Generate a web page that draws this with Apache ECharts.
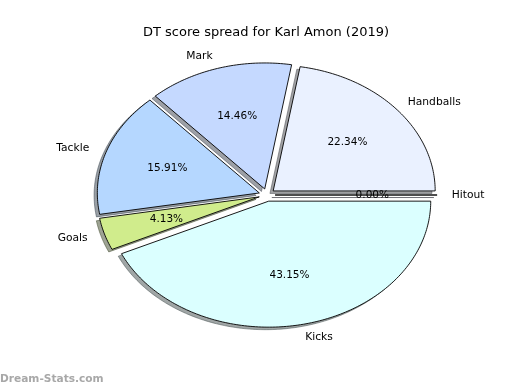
<!DOCTYPE html>
<html>
<head>
<meta charset="utf-8">
<script src="https://cdn.jsdelivr.net/npm/echarts@6/dist/echarts.min.js"></script>
<style>
html,body{margin:0;padding:0;background:#fff;}
#c{width:520px;height:390px;}
</style>
</head>
<body>
<div id="c"></div>
<script>
// ---- data ----
const labels = ['Hitout', 'Handballs', 'Mark', 'Tackle', 'Goals', 'Kicks'];
const values = [0.00, 22.34, 14.46, 15.91, 4.13, 43.15];
const explode = [0.05, 0.05, 0.05, 0.05, 0.05, 0.05];
const colors = ['#e0e0ff', '#eaf1ff', '#c5d9ff', '#b5d7ff', '#d0ec8c', '#dbffff'];
const titleText = 'DT score spread for Karl Amon (2019)';
const watermark = 'Dream-Stats.com';

// ---- layout ----
const CX = 267, CY = 195, RX = 162, RY = 126;
const FONT = 'DejaVu Sans';

const total = values.reduce((a, b) => a + b, 0);
let cum = 0;
const seriesData = values.map((v, i) => {
  const item = { name: labels[i], value: [v, cum, i] };
  cum += v;
  return item;
});

function shadeColor(hex) {
  const r = parseInt(hex.slice(1, 3), 16), g = parseInt(hex.slice(3, 5), 16), b = parseInt(hex.slice(5, 7), 16);
  return 'rgba(' + Math.round(r * 0.3) + ',' + Math.round(g * 0.3) + ',' + Math.round(b * 0.3) + ',0.5)';
}

function wedgePoints(cx, cy, t1, t2) {
  const pts = [[cx, cy]];
  const n = Math.max(2, Math.ceil((t2 - t1) / (Math.PI / 180)));
  for (let k = 0; k <= n; k++) {
    const t = t1 + (t2 - t1) * k / n;
    pts.push([cx + RX * Math.cos(t), cy - RY * Math.sin(t)]);
  }
  return pts;
}

function renderShadow(params, api) {
  const v = api.value(0), start = api.value(1), i = api.value(2);
  const t1 = 2 * Math.PI * start / total, t2 = 2 * Math.PI * (start + v) / total;
  const tm = (t1 + t2) / 2;
  const ex = explode[i];
  const cx = CX + ex * RX * Math.cos(tm) - 0.02 * RX;
  const cy = CY - ex * RY * Math.sin(tm) + 0.02 * RY;
  const col = shadeColor(colors[i]);
  return {
    type: 'polygon',
    shape: { points: wedgePoints(cx, cy, t1, t2) },
    style: { fill: col, stroke: col, lineWidth: 1 }
  };
}

function renderWedge(params, api) {
  const v = api.value(0), start = api.value(1), i = api.value(2);
  const t1 = 2 * Math.PI * start / total, t2 = 2 * Math.PI * (start + v) / total;
  const tm = (t1 + t2) / 2;
  const ex = explode[i];
  const cx = CX + ex * RX * Math.cos(tm);
  const cy = CY - ex * RY * Math.sin(tm);
  const lx = cx + 1.1 * RX * Math.cos(tm);
  const ly = cy - 1.1 * RY * Math.sin(tm);
  const px = cx + 0.6 * RX * Math.cos(tm);
  const py = cy - 0.6 * RY * Math.sin(tm);
  const pct = (v / total * 100).toFixed(2) + '%';
  const right = (lx - CX) > 0;
  return {
    type: 'group',
    children: [
      {
        type: 'polygon',
        shape: { points: wedgePoints(cx, cy, t1, t2) },
        style: { fill: colors[i], stroke: '#000', lineWidth: 0.9, lineJoin: 'miter' }
      },
      {
        type: 'text', z2: 10,
        style: {
          x: lx - 1.5, y: ly + 0.5, text: labels[i],
          align: right ? 'left' : 'right',
          verticalAlign: 'middle', fill: '#000',
          font: '10.7px "' + FONT + '"'
        }
      },
      {
        type: 'text', z2: 10,
        style: {
          x: px, y: py, text: pct, align: 'center', verticalAlign: 'middle',
          fill: '#000', font: '10.5px "' + FONT + '"'
        }
      }
    ]
  };
}

const chart = echarts.init(document.getElementById('c'), null, { renderer: 'canvas' });
chart.setOption({
  backgroundColor: '#fff',
  animation: false,
  title: {
    text: titleText, left: 138, top: 21,
    textStyle: { fontFamily: FONT, fontSize: 13, fontWeight: 'normal', color: '#000' }
  },
  graphic: [{
    type: 'text', left: 0, top: 374,
    style: { text: watermark, fill: '#a8a8a8', font: 'bold 10.6px "' + FONT + '"' }
  }],
  series: [
    { type: 'custom', coordinateSystem: 'none', renderItem: renderShadow, data: seriesData, z: 1, silent: true },
    { type: 'custom', coordinateSystem: 'none', renderItem: renderWedge, data: seriesData, z: 2, silent: true }
  ]
});
</script>
</body>
</html>
